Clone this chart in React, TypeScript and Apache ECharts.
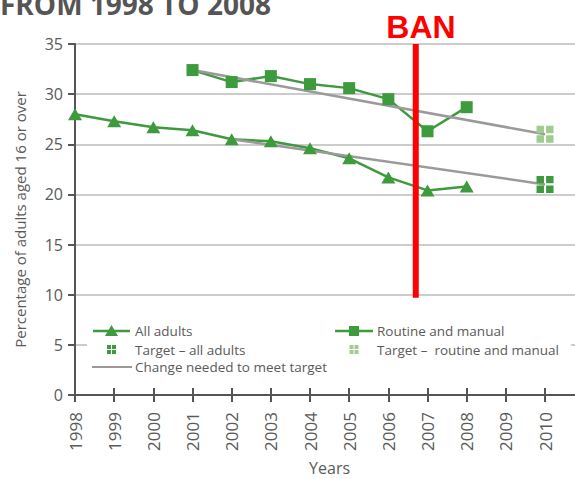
import React, { useEffect, useRef } from "react";
import * as echarts from "echarts";

const years = [1998, 1999, 2000, 2001, 2002, 2003, 2004, 2005, 2006, 2007, 2008];
const allAdults = [28.0, 27.3, 26.7, 26.4, 25.5, 25.3, 24.6, 23.6, 21.7, 20.4, 20.8];
const rmYears = [2001, 2002, 2003, 2004, 2005, 2006, 2007, 2008];
const routineManual = [32.4, 31.2, 31.8, 31.0, 30.6, 29.5, 26.3, 28.7];
const targetYear = 2010;
const targetAll = 21;
const targetRM = 26;
const changeAllStart: [number, number] = [2002, 25.5];
const changeRMStart: [number, number] = [2001, 32.4];
const banYear = 2006.7;
const banRange = [9.7, 35];
const yTicks = [0, 5, 10, 15, 20, 25, 30, 35];

const GREEN = "#3d9a3d";
const LIGHT_GREEN = "#9fcc8f";
const GRAY_LINE = "#9a9a9a";
const TEXT = "#5a5a5a";
const FONT = "Open Sans";

const quad = "path://M0,0h7v7h-7z M9,0h7v7h-7z M0,9h7v7h-7z M9,9h7v7h-7z";

function quadIcon(cx: number, cy: number, s: number, color: string) {
  const h = (s - 1) / 2;
  const els: any[] = [];
  [[0, 0], [1, 0], [0, 1], [1, 1]].forEach(([i, j]) => {
    els.push({
      type: "rect",
      z: 5,
      shape: { x: cx - s / 2 + i * (h + 1), y: cy - s / 2 + j * (h + 1), width: h, height: h },
      style: { fill: color },
    });
  });
  return els;
}

export default function App() {
  const ref = useRef<HTMLDivElement>(null);
  useEffect(() => {
    if (!ref.current) return;
    const chart = echarts.init(ref.current, undefined, { renderer: "svg" });
    const legendText = (x: number, y: number, t: string) => ({
      type: "text",
      z: 5,
      style: { x, y, text: t, fill: TEXT, font: `13.5px "${FONT}"`, verticalAlign: "middle", align: "left" },
    });
    const r1 = 331, r2 = 349.5, r3 = 367;
    const option: any = {
      animation: false,
      grid: { left: 75, right: 0.8, top: 44, bottom: 84, containLabel: false, outerBoundsMode: "none" },
      xAxis: [
        {
          type: "value",
          min: 1998,
          max: 2011,
          interval: 1,
          name: "Years",
          nameLocation: "middle",
          nameGap: 65,
          nameTextStyle: { color: TEXT, fontSize: 16, fontFamily: FONT },
          axisLine: { onZero: false, lineStyle: { color: "#555", width: 2 } },
          axisTick: { show: true, length: 7, lineStyle: { color: "#555", width: 2 } },
          axisLabel: {
            rotate: 90,
            margin: 17,
            color: TEXT,
            fontSize: 17,
            fontFamily: FONT,
            formatter: (v: number) => (v >= 2011 ? "" : String(v)),
          },
          splitLine: { show: false },
        },
        {
          type: "value",
          min: 1998,
          max: 2011,
          interval: 1,
          position: "bottom",
          axisLine: { show: false, onZero: false },
          axisTick: { show: true, inside: true, length: 7, lineStyle: { color: "#555", width: 2 } },
          axisLabel: { show: false },
          splitLine: { show: false },
        },
      ],
      yAxis: {
        type: "value",
        min: yTicks[0],
        max: yTicks[yTicks.length - 1],
        interval: 5,
        name: "Percentage of adults aged 16 or over",
        nameLocation: "middle",
        nameGap: 48,
        nameTextStyle: { color: TEXT, fontSize: 15, fontFamily: FONT },
        axisLine: { show: true, lineStyle: { color: "#555", width: 2 } },
        axisTick: { show: true, length: 7, lineStyle: { color: "#555", width: 2 } },
        axisLabel: { margin: 12, color: TEXT, fontSize: 16, fontFamily: FONT },
        splitLine: { show: true, lineStyle: { color: "#cccccc", width: 2 } },
      },
      series: [
        {
          type: "line",
          name: "All adults",
          z: 2,
          data: years.map((y, i) => [y, allAdults[i]]),
          symbol: "none",
          lineStyle: { color: GREEN, width: 2.5 },
        },
        {
          type: "line",
          name: "Routine and manual",
          z: 2,
          data: rmYears.map((y, i) => [y, routineManual[i]]),
          symbol: "none",
          lineStyle: { color: GREEN, width: 2.5 },
        },
        {
          type: "line",
          name: "Change needed to meet target (all adults)",
          z: 3,
          data: [changeAllStart, [targetYear, targetAll]],
          symbol: "none",
          lineStyle: { color: GRAY_LINE, width: 2.5 },
        },
        {
          type: "line",
          name: "Change needed to meet target (routine and manual)",
          z: 3,
          data: [changeRMStart, [targetYear, targetRM]],
          symbol: "none",
          lineStyle: { color: GRAY_LINE, width: 2.5 },
        },
        {
          type: "scatter",
          name: "All adults markers",
          z: 4,
          data: years.map((y, i) => [y, allAdults[i]]),
          symbol: "triangle",
          symbolSize: [14, 12],
          itemStyle: { color: GREEN, opacity: 1 },
        },
        {
          type: "scatter",
          name: "Routine and manual markers",
          z: 4,
          data: rmYears.map((y, i) => [y, routineManual[i]]),
          symbol: "rect",
          symbolSize: 12,
          itemStyle: { color: GREEN, opacity: 1 },
        },
        {
          type: "scatter",
          name: "Target – all adults",
          z: 4,
          data: [[targetYear, targetAll]],
          symbol: quad,
          symbolSize: 17,
          itemStyle: { color: GREEN, opacity: 1 },
        },
        {
          type: "scatter",
          name: "Target – routine and manual",
          z: 4,
          data: [[targetYear, targetRM]],
          symbol: quad,
          symbolSize: 17,
          itemStyle: { color: LIGHT_GREEN, opacity: 1 },
        },
        {
          type: "line",
          name: "Ban",
          z: 5,
          clip: false,
          data: [[banYear, banRange[1]], [banYear, banRange[0]]],
          symbol: "none",
          lineStyle: { color: "#ff0000", width: 6, cap: "butt" },
        },
      ],
      graphic: [
        {
          type: "text",
          z: 10,
          style: { x: 0, y: 4, text: "FROM 1998 TO 2008", fill: "#555", font: `bold 28px "${FONT}"`, verticalAlign: "middle" },
        },
        {
          type: "text",
          z: 10,
          style: { x: 421, y: 27, text: "BAN", fill: "#ff0000", font: `bold 32px "Liberation Sans"`, align: "center", verticalAlign: "middle" },
        },
        { type: "rect", z: 1, shape: { x: 87, y: 318, width: 484, height: 60 }, style: { fill: "#ffffff" } },
        { type: "line", z: 5, shape: { x1: 93, y1: r1, x2: 130, y2: r1 }, style: { stroke: GREEN, lineWidth: 2.5 } },
        { type: "polygon", z: 5, shape: { points: [[111.5, r1 - 6], [118, r1 + 5], [105, r1 + 5]] }, style: { fill: GREEN } },
        legendText(135, r1, "All adults"),
        { type: "line", z: 5, shape: { x1: 335, y1: r1, x2: 373, y2: r1 }, style: { stroke: GREEN, lineWidth: 2.5 } },
        { type: "rect", z: 5, shape: { x: 349, y: r1 - 5, width: 10, height: 10 }, style: { fill: GREEN } },
        legendText(377, r1, "Routine and manual"),
        ...quadIcon(111.5, r2, 9, GREEN),
        legendText(135, r2, "Target – all adults"),
        ...quadIcon(354, r2, 9, LIGHT_GREEN),
        legendText(377, r2, "Target –  routine and manual"),
        { type: "line", z: 5, shape: { x1: 92, y1: r3, x2: 132, y2: r3 }, style: { stroke: GRAY_LINE, lineWidth: 2 } },
        legendText(135, r3, "Change needed to meet target"),
      ],
    };
    chart.setOption(option);
    return () => chart.dispose();
  }, []);
  return (
    <div style={{ position: "absolute", left: 0, top: 0, width: 575, height: 479, overflow: "hidden" }}>
      <div ref={ref} style={{ width: 585, height: 479 }} />
    </div>
  );
}
